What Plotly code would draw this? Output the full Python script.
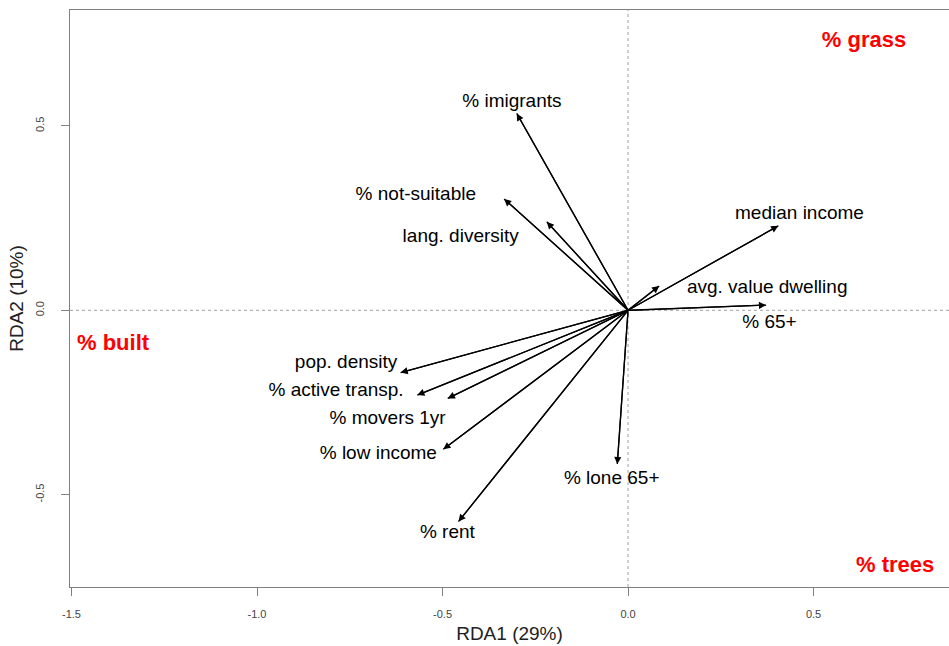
import plotly.graph_objects as go

# Biplot arrow tips (RDA1, RDA2)
variables = ["% imigrants", "% not-suitable", "lang. diversity", "median income",
             "avg. value dwelling", "% 65+", "pop. density", "% active transp.",
             "% movers 1yr", "% low income", "% rent", "% lone 65+"]
rda1 = [-0.300, -0.334, -0.219, 0.405, 0.084, 0.372, -0.613, -0.568, -0.486, -0.498, -0.457, -0.029]
rda2 = [0.534, 0.302, 0.240, 0.229, 0.066, 0.014, -0.169, -0.230, -0.239, -0.377, -0.573, -0.417]

# Label positions
label_x = [-0.313, -0.572, -0.451, 0.462, 0.375, 0.381, -0.760, -0.787, -0.648, -0.673, -0.487, -0.044]
label_y = [0.565, 0.312, 0.197, 0.261, 0.061, -0.036, -0.1425, -0.219, -0.296, -0.390, -0.604, -0.459]

# Land-cover labels
cover_labels = ["% grass", "% built", "% trees"]
cover_x = [0.636, -1.388, 0.720]
cover_y = [0.730, -0.094, -0.694]

x_ticks = [-1.5, -1.0, -0.5, 0.0, 0.5]
x_ticktext = ["-1.5", "-1.0", "-0.5", "0.0", "0.5"]
y_ticks = [-0.5, 0.0, 0.5]
y_ticktext = ["-0.5", "0.0", "0.5"]

FONT = "Liberation Sans, Arial, sans-serif"

fig = go.Figure()

# arrow shafts
sx, sy = [], []
for x, y in zip(rda1, rda2):
    sx += [0, x, None]
    sy += [0, y, None]
fig.add_trace(go.Scatter(x=sx, y=sy, mode="lines",
                         line=dict(color="black", width=1.3),
                         hoverinfo="skip", showlegend=False))

# labels
fig.add_trace(go.Scatter(x=label_x, y=label_y, text=variables, mode="text",
                         textfont=dict(family=FONT, size=19, color="black"),
                         textposition="middle center", showlegend=False))

fig.add_trace(go.Scatter(x=cover_x, y=cover_y, text=["<b>%s</b>" % t for t in cover_labels],
                         mode="text",
                         textfont=dict(family=FONT, size=22, color="#ff0000"),
                         textposition="middle center", showlegend=False))

# arrowheads
for x, y in zip(rda1, rda2):
    fig.add_annotation(x=x, y=y, ax=0, ay=0, xref="x", yref="y", axref="x", ayref="y",
                       text="", showarrow=True, arrowhead=2, arrowsize=1.1,
                       arrowwidth=1.3, arrowcolor="black")

# dotted zero lines
fig.add_shape(type="line", xref="x", yref="paper", x0=0, x1=0, y0=0, y1=1,
              line=dict(color="#a0a0a0", width=1, dash="dot"), layer="below")
fig.add_shape(type="line", xref="paper", yref="y", x0=0, x1=1, y0=0, y1=0,
              line=dict(color="#a0a0a0", width=1, dash="dot"), layer="below")

fig.update_layout(
    width=949, height=646,
    margin=dict(l=70, r=0, t=10, b=59),
    plot_bgcolor="white", paper_bgcolor="white",
    showlegend=False,
    xaxis=dict(range=[-1.504, 0.865], tickvals=x_ticks, ticktext=x_ticktext,
               showgrid=False, zeroline=False, showline=True, mirror=True,
               linecolor="#808080", linewidth=1.3,
               ticks="outside", ticklen=8, tickcolor="#808080", tickwidth=1,
               ticklabelstandoff=9,
               tickfont=dict(family=FONT, size=11, color="#444444"),
               title=dict(text="RDA1 (29%)", font=dict(family=FONT, size=19, color="#222222"),
                          standoff=7)),
    yaxis=dict(range=[-0.7505, 0.8145], tickvals=y_ticks, ticktext=y_ticktext,
               showgrid=False, zeroline=False, showline=True, mirror=False,
               linecolor="#808080", linewidth=1.3,
               ticks="outside", ticklen=8, tickcolor="#808080", tickwidth=1,
               ticklabelstandoff=12,
               tickangle=-90,
               tickfont=dict(family=FONT, size=11, color="#444444"),
               title=dict(text="RDA2 (10%)", font=dict(family=FONT, size=19, color="#222222"),
                          standoff=5)),
)

fig.write_html("out.html", config={"displayModeBar": False},
               post_script="document.body.style.margin='0';document.body.style.overflow='hidden';")
